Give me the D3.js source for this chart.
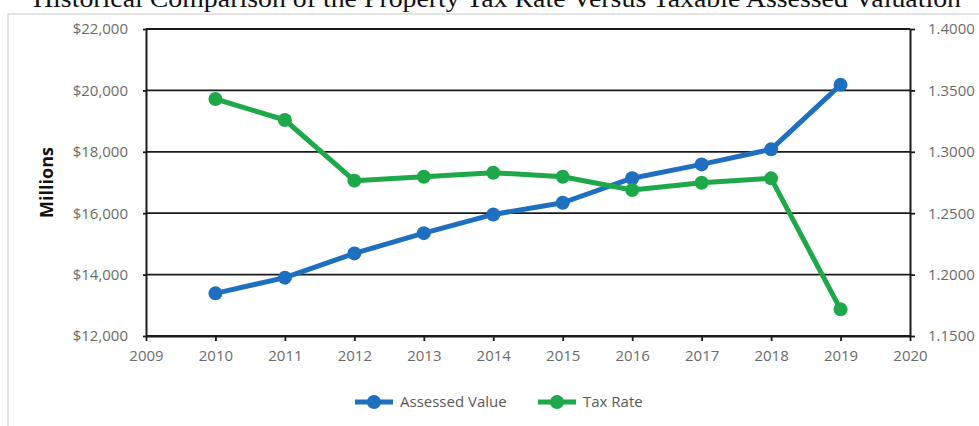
<!DOCTYPE html>
<html>
<head>
<meta charset="utf-8">
<script src="https://cdn.jsdelivr.net/npm/d3@7"></script>
<style>
  body { margin: 0; background: #fff; }
  svg { display: block; }
</style>
</head>
<body>
<div id="chart"></div>
<script>
// --- data ---
const years = [2010, 2011, 2012, 2013, 2014, 2015, 2016, 2017, 2018, 2019];
const assessedValue = [13390, 13900, 14690, 15350, 15960, 16340, 17140, 17590, 18080, 20180];
const taxRate = [1.3430, 1.3259, 1.2765, 1.2797, 1.2830, 1.2797, 1.2689, 1.2748, 1.2784, 1.1717];
const xTicks = [2009, 2010, 2011, 2012, 2013, 2014, 2015, 2016, 2017, 2018, 2019, 2020];
const leftTicks = [12000, 14000, 16000, 18000, 20000, 22000];
const rightTicks = [1.15, 1.20, 1.25, 1.30, 1.35, 1.40];
const seriesNames = ["Assessed Value", "Tax Rate"];

const W = 979, H = 426;
const blue = "#1f6fc1", green = "#1fa84a";
const labelFont = "'Open Sans', sans-serif";

const svg = d3.select("#chart").append("svg")
    .attr("width", W)
    .attr("height", H);

// outer frame of the chart object
svg.append("rect")
    .attr("x", 8).attr("y", 14)
    .attr("width", W + 10).attr("height", H)
    .attr("fill", "none")
    .attr("stroke", "#dcdcdc")
    .attr("stroke-width", 1.5);

// title, cut off by the top of the image
svg.append("text")
    .attr("x", 33).attr("y", 7)
    .attr("textLength", 928)
    .attr("lengthAdjust", "spacingAndGlyphs")
    .attr("font-family", "'Liberation Serif', 'DejaVu Serif', serif")
    .attr("font-size", 26)
    .attr("fill", "#111")
    .text("Historical Comparison of the Property Tax Rate Versus Taxable Assessed Valuation");

const pLeft = 146, pRight = 910, pTop = 29, pBottom = 336;

const x = d3.scaleLinear().domain([2009, 2020]).range([pLeft, pRight]);
const yL = d3.scaleLinear().domain([12000, 22000]).range([pBottom, pTop]);
const yR = d3.scaleLinear().domain([1.15, 1.40]).range([pBottom, pTop]);

// horizontal grid lines
svg.append("g")
    .selectAll("line")
    .data(leftTicks)
    .join("line")
    .attr("x1", pLeft).attr("x2", pRight)
    .attr("y1", d => yL(d)).attr("y2", d => yL(d))
    .attr("stroke", "#1a1a1a")
    .attr("stroke-width", 1.8);

function styleAxis(g) {
    g.select(".domain").attr("stroke", "#1a1a1a").attr("stroke-width", 2);
    g.selectAll(".tick line").attr("stroke", "#1a1a1a").attr("stroke-width", 1.8);
    g.selectAll(".tick text")
        .attr("fill", "#6b6b6b")
        .attr("font-family", labelFont)
        .attr("font-size", 15);
}

svg.append("g")
    .attr("transform", `translate(${pLeft},0)`)
    .call(d3.axisLeft(yL).tickValues(leftTicks).tickSize(3).tickSizeOuter(0).tickPadding(15)
        .tickFormat(d => "$" + d3.format(",")(d)))
    .call(styleAxis);

svg.append("g")
    .attr("transform", `translate(${pRight},0)`)
    .call(d3.axisRight(yR).tickValues(rightTicks).tickSize(5).tickSizeOuter(0).tickPadding(13)
        .tickFormat(d3.format(".4f")))
    .call(styleAxis);

svg.append("g")
    .attr("transform", `translate(0,${pBottom})`)
    .call(d3.axisBottom(x).tickValues(xTicks).tickSize(5).tickSizeOuter(0).tickPadding(9)
        .tickFormat(d3.format("d")))
    .call(styleAxis);

// y axis title
svg.append("text")
    .attr("transform", `translate(53,${(pTop + pBottom) / 2}) rotate(-90)`)
    .attr("text-anchor", "middle")
    .attr("font-family", "'Open Sans', sans-serif")
    .attr("font-weight", "bold")
    .attr("font-size", 18)
    .attr("fill", "#111")
    .text("Millions");

// series
const series = [
    { name: seriesNames[0], values: assessedValue, y: yL, color: blue },
    { name: seriesNames[1], values: taxRate, y: yR, color: green }
];

series.forEach(s => {
    const pts = years.map((yr, i) => [x(yr), s.y(s.values[i])]);
    svg.append("path")
        .attr("d", d3.line()(pts))
        .attr("fill", "none")
        .attr("stroke", s.color)
        .attr("stroke-width", 5)
        .attr("stroke-linejoin", "round");
    svg.append("g")
        .selectAll("circle")
        .data(pts)
        .join("circle")
        .attr("cx", d => d[0]).attr("cy", d => d[1])
        .attr("r", 7)
        .attr("fill", s.color);
});

// legend
const legendX = [355, 538];
const legend = svg.append("g").attr("transform", "translate(0,402)");
series.forEach((s, i) => {
    const g = legend.append("g").attr("transform", `translate(${legendX[i]},0)`);
    g.append("line")
        .attr("x1", 0).attr("x2", 38)
        .attr("stroke", s.color).attr("stroke-width", 5);
    g.append("circle").attr("cx", 19).attr("r", 7).attr("fill", s.color);
    g.append("text")
        .attr("x", 45)
        .attr("dy", "0.35em")
        .attr("font-family", labelFont)
        .attr("font-size", 15)
        .attr("fill", "#595959")
        .text(s.name);
});
</script>
</body>
</html>
